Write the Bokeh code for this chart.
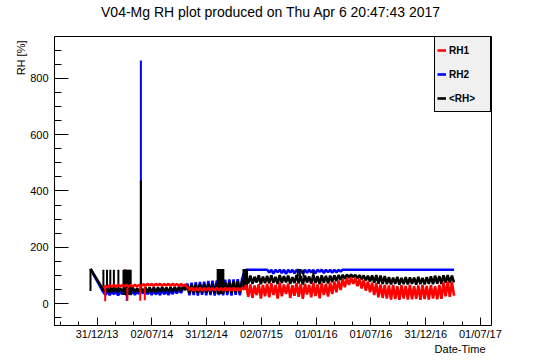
import pandas as pd
from bokeh.plotting import figure
from bokeh.models import Range1d, FixedTicker, Legend, LegendItem, Title
from bokeh.embed import file_html
from bokeh.resources import INLINE

# ---------------- data ----------------
TITLE = "V04-Mg RH plot produced on Thu Apr  6 20:47:43 2017"
Y_LABEL = "RH [%]"
X_LABEL = "Date-Time"
SERIES_NAMES = ["RH1", "RH2", "<RH>"]

ORIGIN = "2013-12-09"          # first sample of the run
FIRST_WEEK = "2014-01-21"      # first weekly sample after the initial gap
N_WEEKS = 168

TICK_DATES = ["2013-12-31", "2014-07-02", "2014-12-31", "2015-07-02",
              "2016-01-01", "2016-07-01", "2016-12-31", "2017-07-01"]
TICK_LABELS = ["31/12/13", "02/07/14", "31/12/14", "02/07/15",
               "01/01/16", "01/07/16", "31/12/16", "01/07/17"]
Y_MAJOR = [0, 200, 400, 600, 800]

# RH1 (weekly samples only)
RH1 = [56, 62, 58, 65, 60, 66, 59, 67, 60, 66, 61, 67, 59, 66, 60, 67, 61, 66,
       62, 69, 63, 70, 64, 69, 63, 70, 64, 70, 63, 69, 64, 70, 63, 70, 64, 69, 63, 70, 62, 68, 58,
       48, 56, 46, 55, 47, 56, 46, 55, 47, 56, 46, 55, 47, 56,
       47, 55,
       46, 56, 47, 55, 46, 56, 47, 55, 46, 56,
       50,
       66, 24, 68, 20, 64, 30, 69, 18, 66, 26,
       70, 22, 72, 30, 66, 18, 74, 26, 68, 34, 71, 20, 65, 28, 73, 24, 69, 17, 70, 32,
       67, 22, 74, 27, 68, 19, 72, 30, 70, 25,
       74, 34, 78, 40, 82, 48, 86, 58, 90, 66, 92, 70, 90, 62, 88, 54, 84, 46, 78, 40,
       74, 30, 72, 22, 68, 20, 66, 18,
       64, 14, 66, 16, 62, 13, 65, 18, 63, 14, 66, 15, 62, 17, 64, 13, 66, 16, 63, 14,
       65, 18, 62, 15, 66, 17,
       74, 26, 78, 24, 76, 28]

# RH2 (first value = start of run, then weekly samples)
RH2 = [123,
       40, 31, 44, 30, 42, 33, 46, 29, 41, 34, 45, 30, 43, 32, 46, 31, 42, 35,
       44, 36, 48, 33, 46, 31, 47, 32, 45, 30, 48, 33, 46, 31, 47, 34, 49, 36, 50, 38, 55, 62, 70,
       29, 74, 30, 76, 28, 77, 31, 78, 29, 80, 30, 81, 28, 82,
       30, 83,
       29, 85, 30, 86, 28, 86, 31, 87, 29, 86,
       110,
       120, 120, 120, 120, 120, 120, 120, 120, 120, 120,
       120, 110, 120, 106, 120, 112, 120, 108, 120, 105, 120, 110, 120, 107, 120, 112,
       120, 106, 120, 109, 120, 111, 120, 107, 120, 113, 120, 108, 120, 112,
       120, 109, 120, 111, 120, 114, 120, 120, 120, 120, 120, 120, 120, 120, 120, 120,
       120, 120, 120, 120,
       120, 120, 120, 120, 120, 120, 120, 120, 120, 120, 120, 120, 120, 120, 120, 120,
       120, 120, 120, 120, 120, 120, 120, 120, 120, 120, 120, 120, 120, 120, 120, 120,
       120, 120, 120, 120, 120, 120, 120, 120]

# <RH> (first value = start of run, then weekly samples)
RH_MEAN = [123,
           48, 42, 54, 40, 55, 42, 56, 41, 54, 43, 56, 41, 55, 42, 57, 40, 54, 44,
           54, 42, 58, 40, 57, 41, 58, 40, 57, 42, 59, 41, 57, 40, 58, 42, 59, 43, 60, 45, 62, 48, 64,
           38, 66, 39, 67, 38, 68, 40, 68, 39, 69, 38, 70, 39, 70,
           40, 70,
           39, 74, 40, 76, 38, 78, 40, 79, 39, 78,
           85,
           97, 72, 99, 70, 95, 75, 100, 69, 96, 73,
           98, 72, 100, 74, 95, 69, 101, 73, 97, 75, 99, 70, 94, 73, 101, 72,
           98, 68, 99, 75, 96, 71, 102, 73, 97, 69, 100, 74, 98, 72,
           99, 76, 100, 80, 101, 84, 102, 88, 103, 92, 103, 94, 102, 90, 101, 86,
           100, 82, 99, 78,
           100, 74, 101, 71, 99, 70, 98, 69,
           94, 68, 92, 70, 95, 67, 91, 69, 94, 68, 93, 70, 92, 67, 95, 69, 91, 68,
           94, 70, 97, 69, 99, 71, 98, 70,
           100, 74, 101, 73, 99, 75]

# isolated excursions (days since ORIGIN, low, high)
MEAN_SPIKE_DAYS = [0, 43, 55, 66, 78, 93, 110, 114, 118, 122, 126, 130, 134, 168,
                   424, 428, 432, 436, 440, 443, 510, 514, 518, 522, 691, 698, 710, 743]
MEAN_SPIKE_LO = [45, 48, 45, 45, 45, 45, 30, 30, 30, 30, 30, 30, 30, 45,
                 34, 34, 34, 34, 34, 34, 50, 50, 50, 50, 95, 95, 95, 95]
MEAN_SPIKE_HI = [123, 120, 120, 120, 120, 120, 120, 120, 120, 120, 120, 120, 120, 437,
                 123, 123, 123, 123, 123, 123, 123, 123, 123, 123, 124, 123, 120, 116]
RH2_SPIKE_DAYS = [121, 168]
RH2_SPIKE_LO = [10, 45]
RH2_SPIKE_HI = [40, 864]
RH1_UP_DAYS = [115]
RH1_UP_LO = [60]
RH1_UP_HI = [122]
RH1_DIP_DAYS = [49, 123, 166, 181]
RH1_DIP_LO = [8, 10, 10, 12]
RH1_DIP_HI = [55, 55, 60, 60]

# ---------------- derived x values ----------------
origin = pd.Timestamp(ORIGIN)
week_days = [int(d) for d in (pd.date_range(FIRST_WEEK, periods=N_WEEKS, freq="7D") - origin).days]
all_days = [0] + week_days
tick_days = [float((pd.Timestamp(d) - origin).days) for d in TICK_DATES]
step = (tick_days[-1] - tick_days[0]) / (len(tick_days) - 1)
minor = []
for k in range(-1, len(tick_days)):
    base = tick_days[0] + k * step
    for i in (1, 2):
        minor.append(base + step * i / 3.0)
minor += tick_days

FONT = "Liberation Sans"

p = figure(width=546, height=362, title=TITLE,
           x_range=Range1d(-120, 1337), y_range=Range1d(-78, 949),
           output_backend="svg", toolbar_location=None,
           min_border_left=54, min_border_right=55, min_border_top=36, min_border_bottom=37)
p.title.align = "center"
p.title.vertical_align = "top"
p.title.text_font = FONT
p.title.text_font_size = "14px"
p.title.text_font_style = "normal"
p.title.text_color = "black"
p.title.standoff = 4
# thin blank strip between the frame and the title, lifting the title as in the original
p.add_layout(Title(text=" ", text_font_size="10px", standoff=0), "above")
p.background_fill_color = "white"
p.border_fill_color = "white"
p.outline_line_color = "black"
p.outline_line_width = 1
p.outline_line_alpha = 1
p.xgrid.grid_line_color = None
p.ygrid.grid_line_color = None

LW = 2.6    # dense weekly series
SW = 2      # isolated excursions
r_blue = p.line(all_days, RH2, line_color="#0000ff", line_width=LW)
p.segment(x0=RH2_SPIKE_DAYS, y0=RH2_SPIKE_LO, x1=RH2_SPIKE_DAYS, y1=RH2_SPIKE_HI,
          line_color="#0000ff", line_width=SW)
p.segment(x0=RH1_UP_DAYS, y0=RH1_UP_LO, x1=RH1_UP_DAYS, y1=RH1_UP_HI,
          line_color="#ff0000", line_width=SW)
r_black = p.line(all_days, RH_MEAN, line_color="black", line_width=LW)
p.segment(x0=MEAN_SPIKE_DAYS, y0=MEAN_SPIKE_LO, x1=MEAN_SPIKE_DAYS, y1=MEAN_SPIKE_HI,
          line_color="black", line_width=SW)
r_red = p.line(week_days, RH1, line_color="#ff0000", line_width=LW)
p.segment(x0=RH1_DIP_DAYS, y0=RH1_DIP_LO, x1=RH1_DIP_DAYS, y1=RH1_DIP_HI,
          line_color="#ff0000", line_width=SW)

# axes
xa = p.xaxis[0]
xa.ticker = FixedTicker(ticks=tick_days, minor_ticks=minor)
xa.major_label_overrides = {t: lab for t, lab in zip(tick_days, TICK_LABELS)}
xa.major_tick_in = 8
xa.major_tick_out = 0
xa.minor_tick_in = 4
xa.minor_tick_out = 0
xa.major_label_standoff = 2

ya = p.yaxis[0]
y_minor = [v for v in range(-50, 950, 50)]
ya.ticker = FixedTicker(ticks=Y_MAJOR, minor_ticks=y_minor)
ya.major_tick_in = 14
ya.major_tick_out = 0
ya.minor_tick_in = 7
ya.minor_tick_out = 0
ya.major_label_standoff = 6

for ax in (xa, ya):
    ax.axis_line_color = "black"
    ax.major_tick_line_color = "black"
    ax.minor_tick_line_color = "black"
    ax.major_label_text_font = FONT
    ax.major_label_text_font_size = "11px"
    ax.major_label_text_color = "black"

# axis titles as side titles (aligned to the axis ends, as in the original)
p.add_layout(Title(text=Y_LABEL, align="right", text_font=FONT, text_font_size="11px",
                   text_font_style="normal", text_color="black", standoff=2, offset=4), "left")
p.add_layout(Title(text=X_LABEL, align="right", vertical_align="top", text_font=FONT,
                   text_font_size="11px", text_font_style="normal", text_color="black",
                   standoff=0, offset=6), "below")

legend = Legend(items=[LegendItem(label=SERIES_NAMES[0], renderers=[r_red]),
                       LegendItem(label=SERIES_NAMES[1], renderers=[r_blue]),
                       LegendItem(label=SERIES_NAMES[2], renderers=[r_black])],
                location="top_right", margin=0, padding=2, spacing=2,
                glyph_height=22, glyph_width=9, label_height=22, label_width=39,
                label_standoff=3,
                label_text_font=FONT, label_text_font_size="10px",
                label_text_font_style="bold", label_text_color="black",
                border_line_color="black", border_line_width=1, border_line_alpha=1,
                background_fill_color="#f0f0f0", background_fill_alpha=1)
p.add_layout(legend)

open("out.html", "w").write(file_html(p, INLINE))
